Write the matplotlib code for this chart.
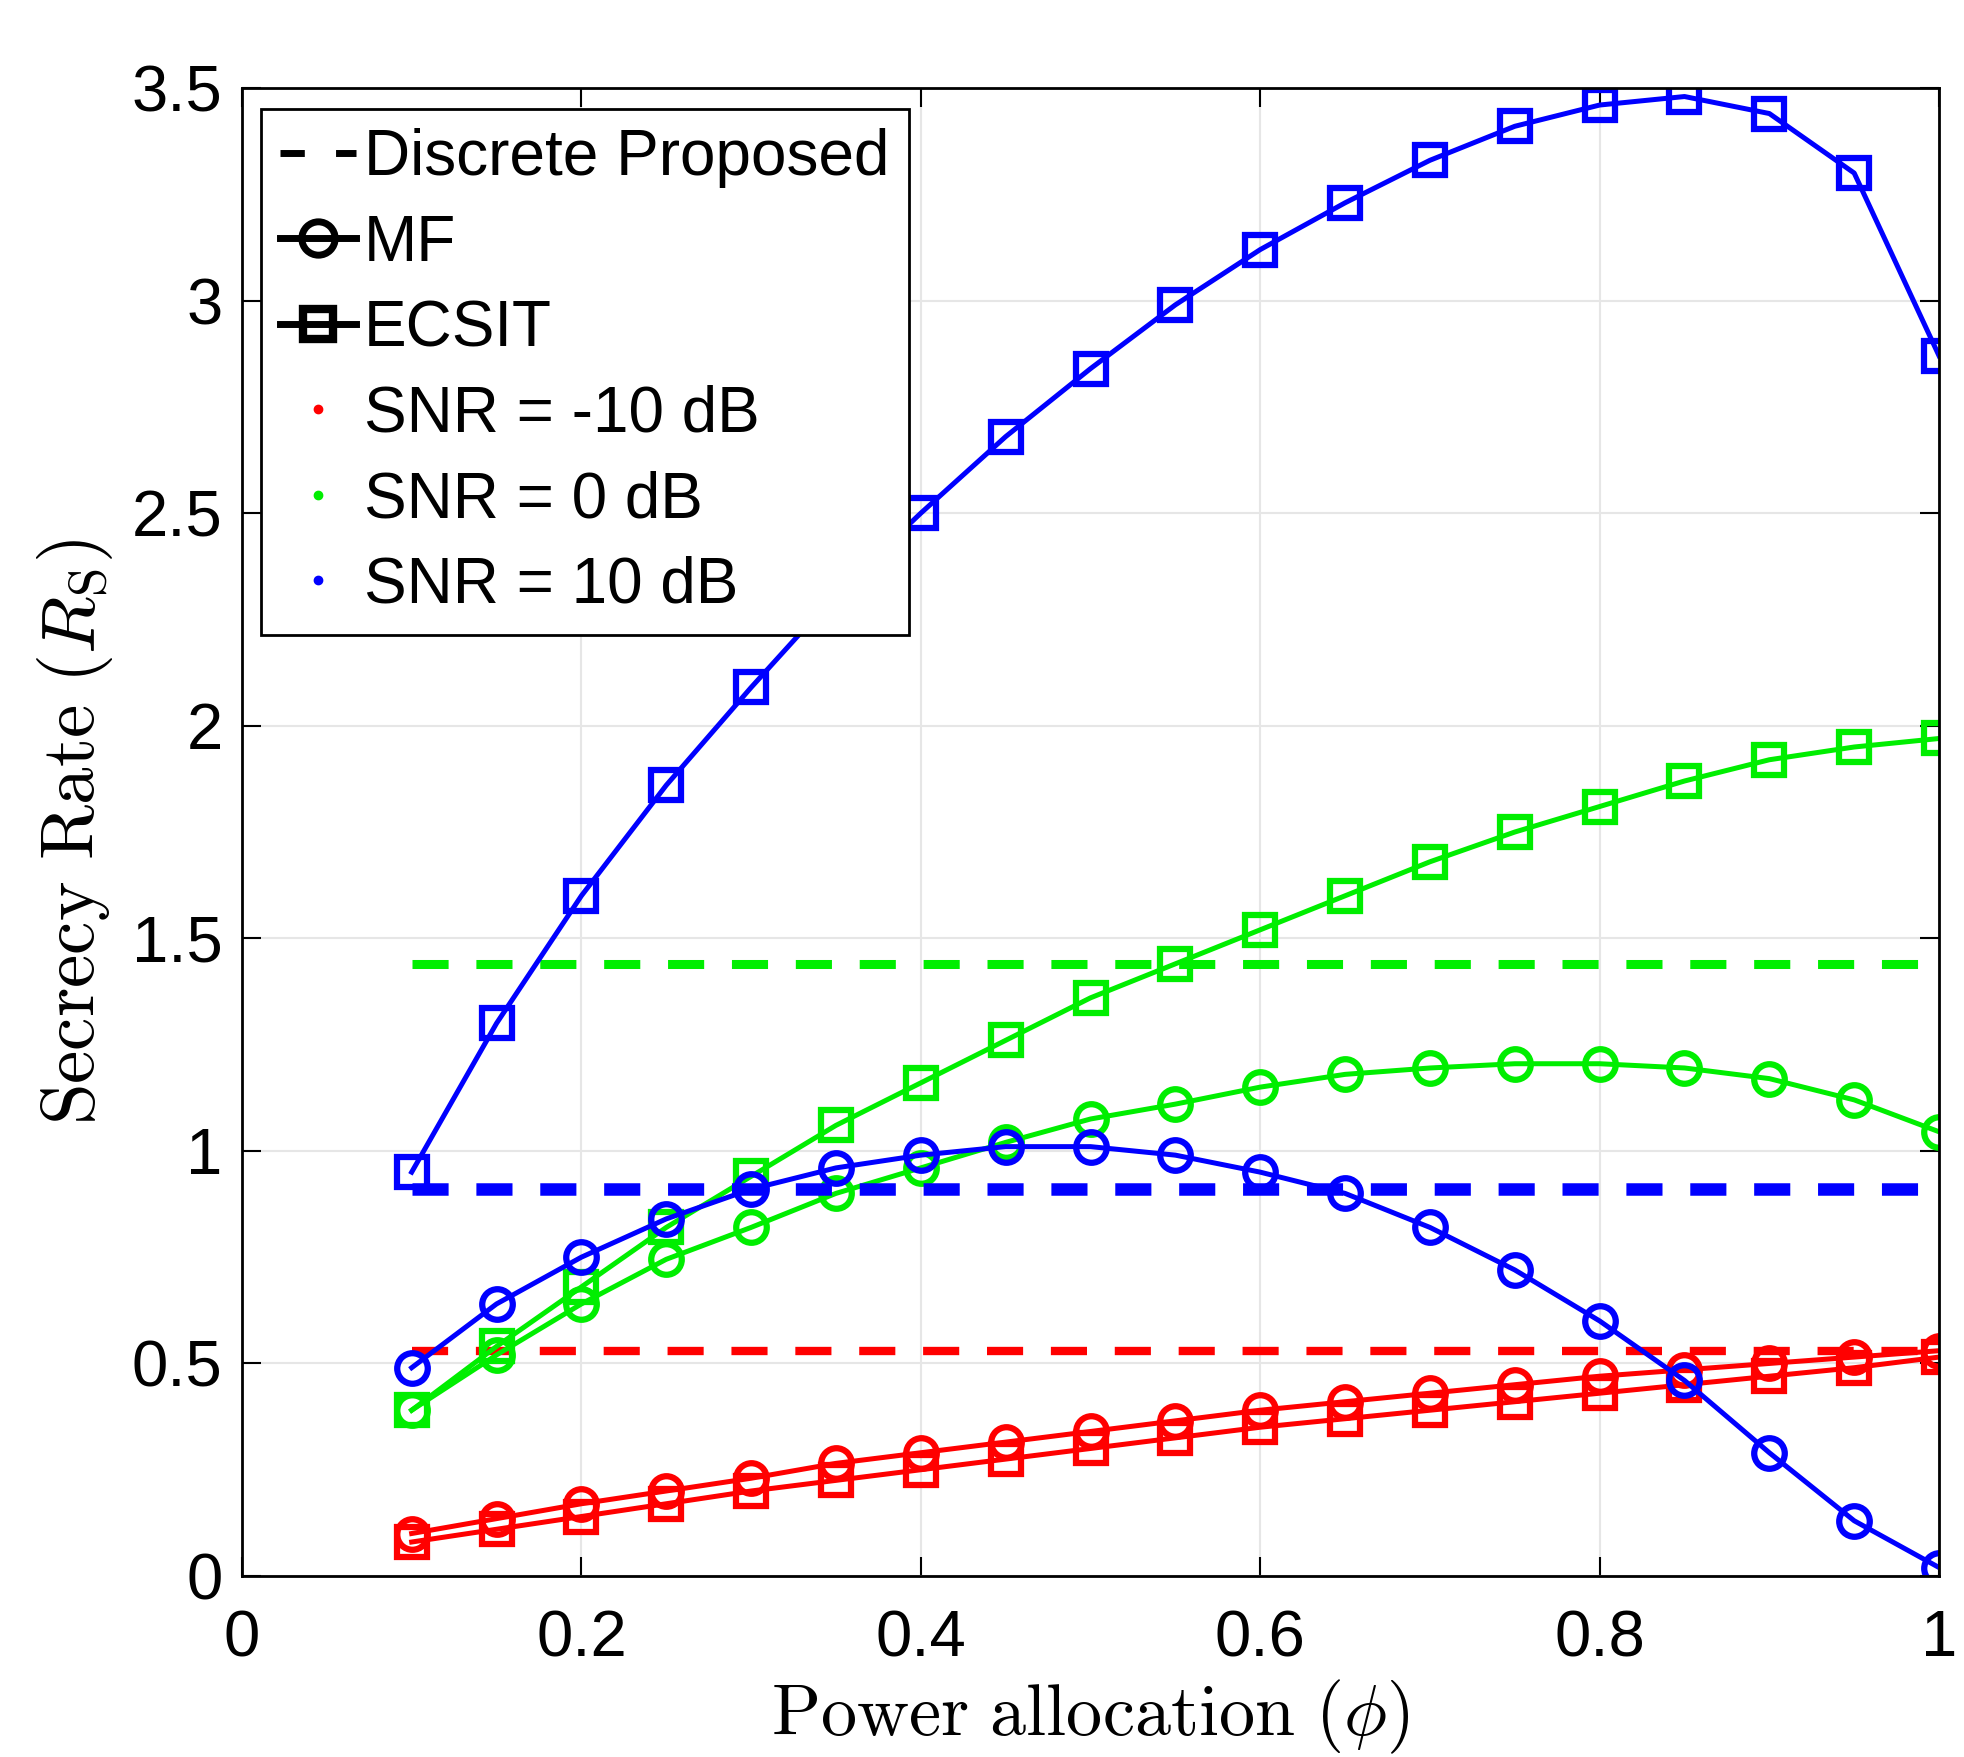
import numpy as np
import matplotlib
matplotlib.use("Agg")
import matplotlib.pyplot as plt
from matplotlib.lines import Line2D

# ------------------------------
# DATA
# ------------------------------
phi = [0.10, 0.15, 0.20, 0.25, 0.30, 0.35, 0.40, 0.45, 0.50, 0.55,
       0.60, 0.65, 0.70, 0.75, 0.80, 0.85, 0.90, 0.95, 1.00]

mf_m10 = [0.10, 0.135, 0.17, 0.20, 0.23, 0.265, 0.29, 0.315, 0.34, 0.365,
          0.39, 0.41, 0.43, 0.45, 0.47, 0.485, 0.50, 0.515, 0.53]
ecsit_m10 = [0.08, 0.11, 0.14, 0.17, 0.20, 0.225, 0.25, 0.275, 0.30, 0.325,
             0.35, 0.37, 0.39, 0.41, 0.43, 0.45, 0.47, 0.49, 0.515]

mf_0 = [0.39, 0.52, 0.64, 0.745, 0.82, 0.90, 0.96, 1.02, 1.075, 1.11,
        1.15, 1.18, 1.195, 1.205, 1.205, 1.195, 1.17, 1.12, 1.045]
ecsit_0 = [0.39, 0.54, 0.68, 0.82, 0.94, 1.06, 1.16, 1.26, 1.36, 1.44,
           1.52, 1.60, 1.68, 1.75, 1.81, 1.87, 1.92, 1.95, 1.97]

mf_10 = [0.49, 0.64, 0.75, 0.84, 0.91, 0.96, 0.99, 1.01, 1.01, 0.99,
         0.95, 0.90, 0.82, 0.72, 0.60, 0.46, 0.29, 0.13, 0.02]
ecsit_10 = [0.95, 1.30, 1.60, 1.86, 2.09, 2.31, 2.50, 2.68, 2.84, 2.99,
            3.12, 3.23, 3.33, 3.41, 3.46, 3.48, 3.44, 3.30, 2.87]

# flat "Discrete Proposed" levels
disc_m10 = 0.53
disc_0 = 1.44
disc_10 = 0.91

snr_labels = ["SNR = -10 dB", "SNR = 0 dB", "SNR = 10 dB"]
snr_colors = ["#ff0000", "#00ee00", "#0000ff"]

xticks = [0, 0.2, 0.4, 0.6, 0.8, 1]
xtick_labels = ["0", "0.2", "0.4", "0.6", "0.8", "1"]
yticks = [0, 0.5, 1, 1.5, 2, 2.5, 3, 3.5]
ytick_labels = ["0", "0.5", "1", "1.5", "2", "2.5", "3", "3.5"]

# ------------------------------
# PLOT
# ------------------------------
plt.rcParams["font.family"] = ["Liberation Sans", "DejaVu Sans"]
plt.rcParams["mathtext.fontset"] = "cm"

fig = plt.figure(figsize=(19.64, 17.57), dpi=100)
ax = fig.add_axes([0.1232, 0.1030, 0.8641, 0.8469])

x = np.array(phi)
mk = dict(markersize=22, markeredgewidth=4.5, markerfacecolor="none")

groups = [
    (mf_m10, ecsit_m10, disc_m10, snr_colors[0], 6.0),
    (mf_0, ecsit_0, disc_0, snr_colors[1], 6.5),
    (mf_10, ecsit_10, disc_10, snr_colors[2], 9.0),
]
for mf, ec, disc, c, dlw in groups:
    ax.plot(x, mf, "-o", color=c, lw=3.6, **mk)
    ax.plot(x, ec, "-s", color=c, lw=3.6, **mk)
    ax.plot([x[0], x[-1]], [disc, disc], color=c, lw=dlw,
            dashes=(26 / dlw, 20 / dlw))

ax.set_xlim(0, 1)
ax.set_ylim(0, 3.5)
ax.set_xticks(xticks)
ax.set_xticklabels(xtick_labels)
ax.set_yticks(yticks)
ax.set_yticklabels(ytick_labels)
ax.tick_params(direction="in", length=14, width=1.5, top=True, right=True,
               labelsize=47)
ax.tick_params(axis="x", pad=24)
ax.tick_params(axis="y", pad=14)
ax.grid(True, color="#e6e6e6", lw=1.5)
ax.set_axisbelow(True)
for s in ax.spines.values():
    s.set_linewidth(2)

ax.set_xlabel(r"$\mathrm{Power\ allocation}\ (\phi)$", fontsize=52, labelpad=6)
ax.set_ylabel(r"$\mathrm{Secrecy\ Rate}\ (R_{\mathrm{S}})$", fontsize=54, labelpad=12)

handles = [
    Line2D([], [], color="k", lw=5, ls=(0, (3.5, 4.5))),
    Line2D([], [], color="k", lw=5, marker="o", markersize=24,
           markeredgewidth=5, markerfacecolor="none"),
    Line2D([], [], color="k", lw=5, marker="s", markersize=22,
           markeredgewidth=6, markerfacecolor="none"),
]
labels = ["Discrete Proposed", "MF", "ECSIT"]
for lab, c in zip(snr_labels, snr_colors):
    handles.append(Line2D([], [], color=c, lw=0, marker=".", markersize=12))
    labels.append(lab)

leg = ax.legend(handles, labels, loc="upper left", fontsize=46,
                bbox_to_anchor=(0.011, 0.986), borderaxespad=0,
                handlelength=1.2, handletextpad=0.12, labelspacing=0.4,
                borderpad=0.3, fancybox=False, framealpha=1,
                edgecolor="k")
leg.get_frame().set_linewidth(2)

fig.savefig("out.png", dpi=100)
